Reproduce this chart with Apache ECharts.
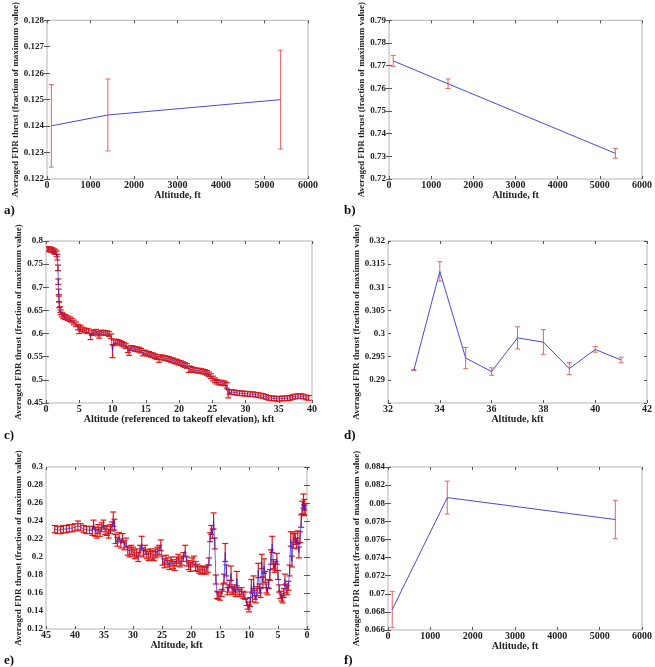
<!DOCTYPE html>
<html>
<head>
<meta charset="utf-8">
<script src="https://cdn.jsdelivr.net/npm/echarts@6/dist/echarts.min.js"></script>
<style>
html, body { margin: 0; padding: 0; background: #fff; }
#chart { width: 655px; height: 667px; }
</style>
</head>
<body>
<div id="chart"></div>
<script>
// altitudes (ft) shared by panels a, b, f
var ftAlt = [100, 1400, 5370]

var aY = [0.12401, 0.12442, 0.12500]
var aErr = [0.00156, 0.00136, 0.00187]

var bY = [0.7721, 0.7620, 0.7313]
var bErr = [0.0024, 0.0021, 0.0021]

var fY = [0.06826, 0.08062, 0.07820]
var fErr = [0.00201, 0.00182, 0.00212]

// panel d, kft
var dX = [33, 34, 35, 36, 37, 38, 39, 40, 41]
var dY = [0.29214, 0.31343, 0.29471, 0.29179, 0.29907, 0.29814, 0.29243, 0.29657, 0.29429]
var dErr = [0.0001, 0.0021, 0.0023, 0.0008, 0.0024, 0.0027, 0.0013, 0.0006, 0.0006]

// panel c, kft referenced to takeoff elevation
var cX = [0.2, 0.4, 0.6, 0.8, 1.0, 1.2, 1.4, 1.6, 1.7, 1.8, 1.85, 1.9, 1.95, 2.0, 2.1, 2.2, 2.4, 2.6, 2.8, 3.0,
    3.3, 3.6, 3.9, 4.2, 4.5, 4.8, 5.0, 5.2, 5.5, 5.8, 6.1, 6.4, 6.7, 6.9, 7.2, 7.5, 7.8, 8.0, 8.3, 8.6,
    8.9, 9.2, 9.5, 9.8, 10.0, 10.2, 10.5, 10.8, 11.1, 11.4, 11.7, 12.0, 12.3, 12.5, 12.8, 13.1, 13.4, 13.7, 14.0, 14.3,
    14.6, 14.9, 15.2, 15.5, 15.8, 16.1, 16.4, 16.7, 17.0, 17.3, 17.6, 17.9, 18.2, 18.5, 18.8, 19.1, 19.4, 19.7, 20.0, 20.3,
    20.6, 20.9, 21.2, 21.5, 21.8, 22.1, 22.4, 22.7, 23.0, 23.3, 23.6, 23.9, 24.2, 24.5, 24.8, 25.1, 25.4, 25.7, 26.0, 26.3,
    26.6, 26.9, 27.2, 27.4, 27.6, 27.9, 28.3, 28.7, 29.1, 29.5, 29.9, 30.3, 30.7, 31.1, 31.5, 31.9, 32.3, 32.7, 33.1, 33.5,
    33.9, 34.3, 34.7, 35.1, 35.5, 35.9, 36.3, 36.7, 37.1, 37.5, 37.9, 38.3, 38.7, 39.1, 39.5]
var cY = [0.783, 0.782, 0.782, 0.781, 0.780, 0.778, 0.776, 0.772, 0.765, 0.742, 0.712, 0.690, 0.675, 0.662, 0.652, 0.646, 0.641, 0.638, 0.636, 0.635,
    0.633, 0.631, 0.628, 0.624, 0.620, 0.614, 0.608, 0.612, 0.609, 0.607, 0.606, 0.605, 0.594, 0.601, 0.603, 0.604, 0.600, 0.597, 0.602, 0.602,
    0.601, 0.601, 0.599, 0.594, 0.562, 0.580, 0.583, 0.582, 0.580, 0.578, 0.576, 0.573, 0.566, 0.561, 0.569, 0.568, 0.567, 0.566, 0.565, 0.563,
    0.558, 0.559, 0.557, 0.556, 0.554, 0.553, 0.551, 0.549, 0.544, 0.549, 0.548, 0.547, 0.546, 0.545, 0.543, 0.542, 0.540, 0.539, 0.537, 0.536,
    0.534, 0.532, 0.530, 0.523, 0.524, 0.522, 0.521, 0.520, 0.520, 0.519, 0.518, 0.517, 0.515, 0.512, 0.508, 0.503, 0.499, 0.496, 0.494, 0.494,
    0.493, 0.492, 0.488, 0.470, 0.474, 0.474, 0.473, 0.472, 0.471, 0.471, 0.470, 0.470, 0.469, 0.469, 0.468, 0.467, 0.466, 0.465, 0.463, 0.461,
    0.460, 0.460, 0.459, 0.459, 0.460, 0.460, 0.460, 0.461, 0.463, 0.464, 0.465, 0.465, 0.464, 0.462, 0.461]
var cErr = [0.005, 0.005, 0.005, 0.005, 0.005, 0.005, 0.005, 0.006, 0.006, 0.006, 0.006, 0.006, 0.006, 0.006, 0.006, 0.005, 0.005, 0.005, 0.005, 0.005,
    0.005, 0.005, 0.005, 0.005, 0.005, 0.006, 0.008, 0.006, 0.005, 0.005, 0.005, 0.005, 0.007, 0.005, 0.005, 0.005, 0.005, 0.007, 0.005, 0.005,
    0.005, 0.005, 0.005, 0.005, 0.014, 0.006, 0.005, 0.005, 0.005, 0.005, 0.005, 0.005, 0.007, 0.008, 0.005, 0.005, 0.005, 0.005, 0.005, 0.005,
    0.006, 0.005, 0.005, 0.005, 0.005, 0.005, 0.005, 0.005, 0.006, 0.005, 0.005, 0.005, 0.005, 0.005, 0.005, 0.005, 0.005, 0.005, 0.005, 0.005,
    0.005, 0.005, 0.005, 0.007, 0.005, 0.005, 0.005, 0.005, 0.005, 0.005, 0.005, 0.005, 0.005, 0.005, 0.005, 0.005, 0.005, 0.005, 0.005, 0.005,
    0.005, 0.005, 0.006, 0.009, 0.005, 0.005, 0.005, 0.005, 0.005, 0.005, 0.005, 0.005, 0.005, 0.005, 0.005, 0.005, 0.005, 0.005, 0.005, 0.005,
    0.005, 0.005, 0.005, 0.005, 0.005, 0.005, 0.005, 0.005, 0.005, 0.005, 0.005, 0.005, 0.005, 0.005, 0.005]

// panel e, kft (axis runs from 45 down to 0)
var eX = [43.5, 43.0, 42.5, 42.0, 41.5, 41.0, 40.5, 40.0, 39.5, 39.0, 38.5, 38.0, 37.5, 37.0, 36.8, 36.5, 36.2, 36.0, 35.7, 35.4,
    35.1, 34.8, 34.5, 34.2, 33.9, 33.6, 33.4, 33.2, 33.0, 32.7, 32.4, 32.1, 31.8, 31.5, 31.2, 30.9, 30.6, 30.3, 30.0, 29.7,
    29.4, 29.1, 28.8, 28.5, 28.2, 27.9, 27.6, 27.3, 27.0, 26.7, 26.4, 26.1, 25.8, 25.5, 25.2, 24.9, 24.6, 24.3, 24.0, 23.7,
    23.4, 23.1, 22.8, 22.5, 22.2, 21.9, 21.6, 21.3, 21.0, 20.7, 20.4, 20.1, 19.8, 19.5, 19.2, 18.9, 18.6, 18.3, 18.0, 17.7,
    17.4, 17.1, 16.9, 16.7, 16.5, 16.3, 16.1, 15.9, 15.7, 15.5, 15.3, 15.0, 14.7, 14.5, 14.3, 14.1, 13.9, 13.7, 13.5, 13.3,
    13.1, 12.9, 12.7, 12.5, 12.3, 12.1, 11.9, 11.6, 11.3, 11.0, 10.7, 10.4, 10.2, 10.0, 9.8, 9.6, 9.4, 9.2, 9.0, 8.8,
    8.6, 8.4, 8.2, 8.0, 7.8, 7.6, 7.4, 7.2, 7.0, 6.8, 6.6, 6.4, 6.2, 6.0, 5.8, 5.6, 5.4, 5.2, 5.0, 4.8,
    4.6, 4.4, 4.2, 4.0, 3.8, 3.6, 3.4, 3.2, 3.0, 2.8, 2.6, 2.4, 2.2, 2.0, 1.8, 1.6, 1.4, 1.2, 1.0, 0.8,
    0.6, 0.5, 0.4, 0.3]
var eY = [0.231, 0.230, 0.230, 0.231, 0.231, 0.232, 0.232, 0.233, 0.235, 0.233, 0.231, 0.230, 0.230, 0.229, 0.236, 0.228, 0.226, 0.231, 0.228, 0.233,
    0.236, 0.230, 0.229, 0.226, 0.231, 0.234, 0.242, 0.236, 0.220, 0.217, 0.222, 0.215, 0.221, 0.213, 0.216, 0.207, 0.205, 0.208, 0.206, 0.203,
    0.204, 0.200, 0.207, 0.215, 0.205, 0.208, 0.203, 0.201, 0.204, 0.202, 0.201, 0.204, 0.206, 0.208, 0.213, 0.196, 0.193, 0.197, 0.194, 0.191,
    0.195, 0.192, 0.190, 0.195, 0.198, 0.194, 0.196, 0.200, 0.207, 0.195, 0.191, 0.189, 0.194, 0.196, 0.190, 0.188, 0.186, 0.185, 0.186, 0.185,
    0.185, 0.187, 0.195, 0.222, 0.230, 0.226, 0.240, 0.215, 0.175, 0.158, 0.157, 0.156, 0.160, 0.166, 0.176, 0.205, 0.185, 0.162, 0.165, 0.170,
    0.182, 0.163, 0.162, 0.165, 0.160, 0.176, 0.162, 0.160, 0.162, 0.158, 0.157, 0.150, 0.146, 0.143, 0.150, 0.168, 0.155, 0.172, 0.158, 0.153,
    0.162, 0.185, 0.165, 0.160, 0.195, 0.172, 0.190, 0.178, 0.165, 0.162, 0.170, 0.180, 0.200, 0.214, 0.192, 0.188, 0.190, 0.198, 0.180, 0.165,
    0.158, 0.155, 0.153, 0.160, 0.175, 0.165, 0.163, 0.168, 0.185, 0.220, 0.195, 0.218, 0.222, 0.220, 0.215, 0.222, 0.205, 0.222, 0.240, 0.255,
    0.262, 0.252, 0.258, 0.252]
var eErr = [0.004, 0.004, 0.004, 0.004, 0.004, 0.004, 0.004, 0.004, 0.005, 0.004, 0.004, 0.004, 0.004, 0.005, 0.005, 0.005, 0.005, 0.005, 0.005, 0.005,
    0.005, 0.005, 0.005, 0.005, 0.005, 0.005, 0.008, 0.006, 0.005, 0.005, 0.005, 0.005, 0.005, 0.005, 0.005, 0.005, 0.005, 0.005, 0.005, 0.005,
    0.005, 0.005, 0.006, 0.008, 0.005, 0.005, 0.005, 0.005, 0.005, 0.005, 0.005, 0.005, 0.005, 0.005, 0.006, 0.005, 0.005, 0.005, 0.005, 0.005,
    0.005, 0.005, 0.005, 0.005, 0.005, 0.005, 0.005, 0.005, 0.006, 0.005, 0.005, 0.005, 0.005, 0.005, 0.005, 0.004, 0.004, 0.004, 0.004, 0.004,
    0.004, 0.004, 0.004, 0.005, 0.005, 0.005, 0.009, 0.006, 0.005, 0.004, 0.004, 0.004, 0.004, 0.004, 0.005, 0.010, 0.006, 0.004, 0.004, 0.004,
    0.008, 0.004, 0.004, 0.004, 0.004, 0.008, 0.004, 0.004, 0.004, 0.004, 0.004, 0.004, 0.004, 0.004, 0.005, 0.007, 0.005, 0.007, 0.005, 0.004,
    0.005, 0.008, 0.005, 0.005, 0.008, 0.006, 0.008, 0.006, 0.005, 0.004, 0.005, 0.006, 0.008, 0.009, 0.005, 0.005, 0.005, 0.006, 0.005, 0.004,
    0.004, 0.004, 0.004, 0.005, 0.006, 0.005, 0.005, 0.005, 0.006, 0.008, 0.006, 0.008, 0.006, 0.006, 0.006, 0.007, 0.006, 0.006, 0.007, 0.007,
    0.008, 0.006, 0.006, 0.005]

var yName = 'Averaged FDR thrust (fraction of maximum value)'
var serif = '"Liberation Serif", "DejaVu Serif", serif'

var panels = [
    { grid: { left: 47, top: 16, width: 261, height: 163 }, x: [0, 6000, 1000], y: [0.122, 0.128, 0.001], xName: 'Altitude, ft',
      xs: ftAlt, ys: aY, errs: aErr, cap: 2.5, dense: false, label: 'a)', lx: 4, ly: 212 },
    { grid: { left: 389, top: 16, width: 260, height: 163 }, x: [0, 6000, 1000], y: [0.72, 0.79, 0.01], xName: 'Altitude, ft',
      xs: ftAlt, ys: bY, errs: bErr, cap: 2.5, dense: false, label: 'b)', lx: 344, ly: 212 },
    { grid: { left: 46, top: 241, width: 266, height: 162 }, x: [0, 40, 5], y: [0.45, 0.8, 0.05], xName: 'Altitude (referenced to takeoff elevation), kft',
      xs: cX, ys: cY, errs: cErr, cap: 3, dense: true, label: 'c)', lx: 4, ly: 437 },
    { grid: { left: 388, top: 241, width: 260, height: 162 }, x: [32, 42, 2], y: [0.285, 0.32, 0.005], xName: 'Altitude, kft',
      xs: dX, ys: dY, errs: dErr, cap: 2.5, dense: false, hideMin: true, label: 'd)', lx: 344, ly: 437 },
    { grid: { left: 46, top: 467, width: 261, height: 162 }, x: [0, 45, 5], y: [0.12, 0.3, 0.02], xName: 'Altitude, kft',
      xs: eX, ys: eY, errs: eErr, cap: 3, dense: true, inverse: true, label: 'e)', lx: 4, ly: 662 },
    { grid: { left: 388, top: 467, width: 260, height: 163 }, x: [0, 6000, 1000], y: [0.066, 0.084, 0.002], xName: 'Altitude, ft',
      xs: ftAlt, ys: fY, errs: fErr, cap: 2.5, dense: false, label: 'f)', lx: 344, ly: 662 }
]

function fmt (v) {
    return String(+v.toFixed(4))
}

function errRender (cap, color, lw) {
    return function (params, api) {
        var x = api.value(0)
        var lo = api.coord([x, api.value(1)])
        var hi = api.coord([x, api.value(2)])
        var st = { stroke: color, lineWidth: lw }
        return {
            type: 'group',
            children: [
                { type: 'line', shape: { x1: lo[0], y1: lo[1], x2: hi[0], y2: hi[1] }, style: st },
                { type: 'line', shape: { x1: lo[0] - cap, y1: lo[1], x2: lo[0] + cap, y2: lo[1] }, style: st },
                { type: 'line', shape: { x1: hi[0] - cap, y1: hi[1], x2: hi[0] + cap, y2: hi[1] }, style: st }
            ]
        }
    }
}

var grids = [], xAxes = [], yAxes = [], series = [], graphics = []
var tickStyle = { color: '#555', width: 1 }
var xLabelStyle = { color: '#222', fontSize: 10, fontFamily: serif, fontWeight: 'bold' }
var yLabelStyle = { color: '#222', fontSize: 9, fontFamily: serif, fontWeight: 'bold' }

panels.forEach(function (p, i) {
    grids.push(Object.assign({ show: true, borderColor: '#b5b5b5', borderWidth: 1, containLabel: false }, p.grid))

    // bottom axis with labels, top axis only for the inside ticks
    xAxes.push({
        type: 'value', gridIndex: i, min: p.x[0], max: p.x[1], interval: p.x[2], inverse: !!p.inverse,
        name: p.xName, nameLocation: 'middle', nameGap: 10,
        nameTextStyle: { color: '#222', fontSize: 10, fontFamily: serif, fontWeight: 'bold', verticalAlign: 'top' },
        axisLine: { show: false },
        axisTick: { inside: true, length: 3, lineStyle: tickStyle },
        axisLabel: Object.assign({ margin: 1, formatter: fmt }, xLabelStyle),
        splitLine: { show: false }
    })
    xAxes.push({
        type: 'value', gridIndex: i, position: 'top', min: p.x[0], max: p.x[1], interval: p.x[2], inverse: !!p.inverse,
        axisLine: { show: false }, axisLabel: { show: false }, splitLine: { show: false },
        axisTick: { inside: true, length: 3, lineStyle: tickStyle }
    })
    yAxes.push({
        type: 'value', gridIndex: i, min: p.y[0], max: p.y[1], interval: p.y[2],
        name: yName, nameLocation: 'middle', nameGap: 23, nameRotate: 90,
        nameTextStyle: { color: '#222', fontSize: 9, fontFamily: serif, fontWeight: 'bold' },
        axisLine: { show: false },
        axisTick: { inside: true, length: 3, lineStyle: tickStyle },
        axisLabel: Object.assign({
            margin: 3,
            formatter: function (v) { return (p.hideMin && Math.abs(v - p.y[0]) < 1e-9) ? '' : fmt(v) }
        }, yLabelStyle),
        splitLine: { show: false }
    })
    yAxes.push({
        type: 'value', gridIndex: i, position: 'right', min: p.y[0], max: p.y[1], interval: p.y[2],
        axisLine: { show: false }, axisLabel: { show: false }, splitLine: { show: false },
        axisTick: { inside: true, length: 3, lineStyle: tickStyle }
    })

    var errData = p.xs.map(function (x, k) { return [x, p.ys[k] - p.errs[k], p.ys[k] + p.errs[k]] })
    series.push({
        type: 'custom', xAxisIndex: i * 2, yAxisIndex: i * 2, clip: true, silent: true, z: 2,
        renderItem: errRender(p.cap, p.dense ? '#e01515' : '#e86464', p.dense ? 1.2 : 1),
        data: errData
    })
    // blue line drawn over the bars, a bit see-through on the dense panels
    series.push({
        type: 'line', xAxisIndex: i * 2, yAxisIndex: i * 2, z: 3, silent: true,
        showSymbol: false, symbol: 'none',
        lineStyle: { color: p.dense ? '#2020f0' : '#4a4ad8', width: 1, opacity: p.dense ? 0.7 : 1 },
        data: p.xs.map(function (x, k) { return [x, p.ys[k]] })
    })

    graphics.push({
        type: 'text', left: p.lx, top: p.ly - 8,
        style: { text: p.label, fill: '#111', font: 'bold 13px ' + serif }
    })
})

var ec = echarts.init(document.getElementById('chart'))
ec.setOption({
    animation: false,
    backgroundColor: '#fff',
    grid: grids,
    xAxis: xAxes,
    yAxis: yAxes,
    series: series,
    graphic: graphics
})
</script>
</body>
</html>
